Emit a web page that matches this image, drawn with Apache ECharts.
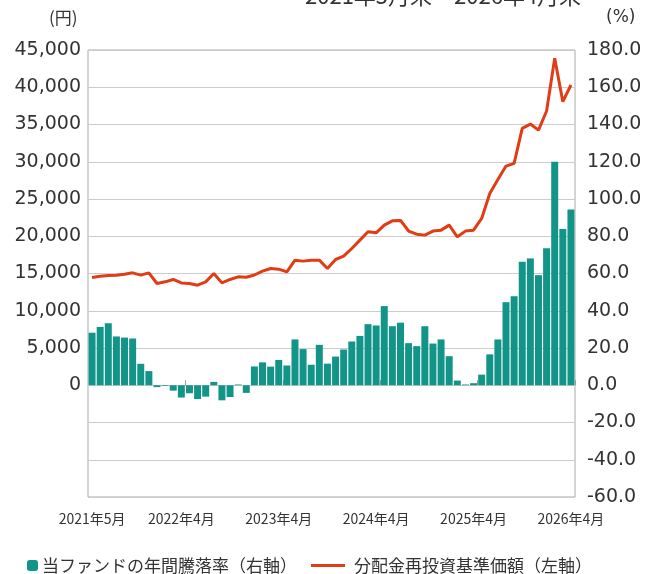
<!DOCTYPE html>
<html>
<head>
<meta charset="utf-8">
<script src="https://cdn.jsdelivr.net/npm/echarts@6/dist/echarts.min.js"></script>
<style>
html,body{margin:0;padding:0;background:#fff;}
#chart{width:646px;height:574px;}
</style>
</head>
<body>
<div id="chart"></div>
<script>
var months = [
 '2021年5月','2021年6月','2021年7月','2021年8月','2021年9月','2021年10月','2021年11月','2021年12月',
 '2022年1月','2022年2月','2022年3月','2022年4月','2022年5月','2022年6月','2022年7月','2022年8月','2022年9月','2022年10月','2022年11月','2022年12月',
 '2023年1月','2023年2月','2023年3月','2023年4月','2023年5月','2023年6月','2023年7月','2023年8月','2023年9月','2023年10月','2023年11月','2023年12月',
 '2024年1月','2024年2月','2024年3月','2024年4月','2024年5月','2024年6月','2024年7月','2024年8月','2024年9月','2024年10月','2024年11月','2024年12月',
 '2025年1月','2025年2月','2025年3月','2025年4月','2025年5月','2025年6月','2025年7月','2025年8月','2025年9月','2025年10月','2025年11月','2025年12月',
 '2026年1月','2026年2月','2026年3月','2026年4月'
];
var shownLabels = ['2021年5月','2022年4月','2023年4月','2024年4月','2025年4月','2026年4月'];

// 当ファンドの年間騰落率 (%), right axis
var annualReturn = [
 28.2, 31.3, 33.3, 26.2, 25.6, 25.1, 11.5, 7.6,
 -1.0, -0.4, -2.9, -6.6, -4.3, -7.4, -6.1, 1.8, -8.1, -6.3, 0.4, -4.1,
 10.1, 12.3, 10.0, 13.6, 10.6, 24.6, 19.4, 11.0, 21.7, 11.6, 15.4, 19.2,
 23.5, 26.5, 32.8, 32.1, 42.5, 31.7, 33.6, 22.6, 21.0, 31.7, 22.4, 24.6,
 15.6, 2.5, 0.4, 1.1, 5.7, 16.6, 24.6, 44.6, 47.8, 66.3, 68.1, 59.1,
 73.6, 120.0, 83.9, 94.4
];

// 分配金再投資基準価額 (円), left axis
var navReinvested = [
 14460, 14640, 14730, 14780, 14910, 15090, 14780, 15090,
 13660, 13880, 14200, 13740, 13660, 13430, 13880, 15000, 13740, 14200, 14550, 14500,
 14800, 15310, 15670, 15580, 15220, 16790, 16660, 16790, 16790, 15670, 16880, 17330,
 18360, 19480, 20600, 20460, 21490, 22070, 22120, 20700, 20280, 20150, 20690, 20820,
 21490, 19930, 20690, 20820, 22390, 25750, 27630, 29420, 29780, 34480, 35060, 34250,
 36810, 43900, 38060, 40300
];

var seriesBarName = '当ファンドの年間騰落率（右軸）';
var seriesLineName = '分配金再投資基準価額（左軸）';
var titleText = '2021年5月末～2026年4月末';

var cjk = '"Noto Sans CJK JP", "Noto Sans", sans-serif';
var num = '"DejaVu Sans", sans-serif';

var chart = echarts.init(document.getElementById('chart'), null, {renderer: 'canvas'});
chart.setOption({
  animation: false,
  backgroundColor: '#ffffff',
  grid: {left: 88, right: 71, top: 50, bottom: 77, show: true, borderColor: '#aaaaaa', borderWidth: 1, backgroundColor: 'transparent'},
  graphic: [
    {type: 'text', left: 305, top: -15, style: {text: titleText, font: '22px ' + cjk, fill: '#333'}},
    {type: 'text', left: 49, top: 9, style: {text: '(円)', font: '17px ' + cjk, fill: '#333'}},
    {type: 'text', left: 606, top: 9, style: {text: '(%)', font: '17px ' + num, fill: '#333'}}
  ],
  legend: [
    {data: [seriesBarName], left: 22, top: 552, itemWidth: 11, itemHeight: 11, itemGap: 10,
     textStyle: {fontSize: 17, fontFamily: cjk, color: '#333', padding: [0,0,0,-1]}},
    {data: [{name: seriesLineName, icon: 'rect'}], left: 306, top: 552, itemWidth: 34, itemHeight: 3,
     textStyle: {fontSize: 17, fontFamily: cjk, color: '#333', padding: [0,0,0,4]}}
  ],
  xAxis: [
    {type: 'category', data: months, position: 'bottom', boundaryGap: true,
     axisLine: {show: false, onZero: false}, axisTick: {show: false},
     axisLabel: {interval: function (i, v) { return shownLabels.indexOf(v) >= 0; },
                 margin: 15, fontSize: 14, fontFamily: cjk, color: '#333'}},
    {type: 'category', data: months, position: 'top', boundaryGap: true,
     axisLine: {show: true, onZero: true, onZeroAxisIndex: 0, lineStyle: {color: '#cccccc', width: 1}},
     axisTick: {show: true, length: 5, lineStyle: {color: '#999999'},
                interval: function (i) { return i > 0 && i % 12 === 0; }},
     axisLabel: {show: false}}
  ],
  yAxis: [
    {type: 'value', min: -15000, max: 45000, interval: 5000, position: 'left',
     axisLine: {show: false}, axisTick: {show: false},
     splitLine: {show: true, lineStyle: {color: '#cccccc', width: 1}},
     axisLabel: {margin: 7, fontSize: 19, fontFamily: num, color: '#333',
                 formatter: function (v) { return v < 0 ? '' : v.toLocaleString('en-US'); }}},
    {type: 'value', min: -60, max: 180, interval: 20, position: 'right',
     axisLine: {show: false}, axisTick: {show: false}, splitLine: {show: false},
     axisLabel: {margin: 12, fontSize: 19, fontFamily: num, color: '#333',
                 formatter: function (v) { return v.toFixed(1); }}}
  ],
  series: [
    {name: seriesBarName, type: 'bar', xAxisIndex: 0, yAxisIndex: 1, data: annualReturn,
     barCategoryGap: '14%', itemStyle: {color: '#139488'}, z: 2},
    {name: seriesLineName, type: 'line', xAxisIndex: 0, yAxisIndex: 0, data: navReinvested,
     symbol: 'none', smooth: false, lineStyle: {color: '#e03c16', width: 3}, itemStyle: {color: '#e03c16'}, z: 3}
  ]
});
</script>
</body>
</html>
